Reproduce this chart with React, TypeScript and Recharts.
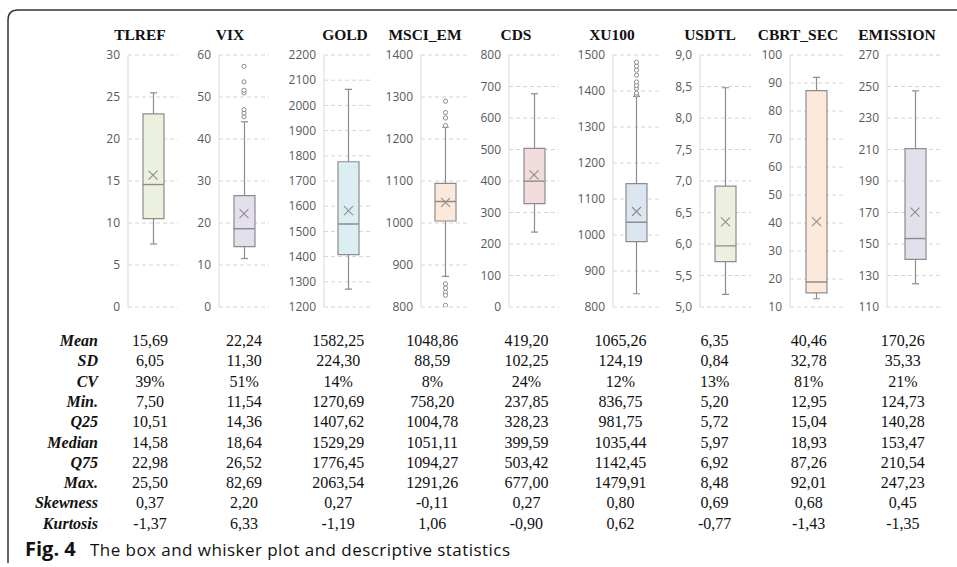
import React from 'react';
import { ComposedChart, Bar, Scatter, XAxis, YAxis, CartesianGrid } from 'recharts';

// box plot values (whiskers end at the last point inside 1.5 IQR)
const names = ['TLREF', 'VIX', 'GOLD', 'MSCI_EM', 'CDS', 'XU100', 'USDTL', 'CBRT_SEC', 'EMISSION'];
const whiskerLow = [7.5, 11.54, 1270.69, 873, 237.85, 836.75, 5.2, 12.95, 124.73];
const q1 = [10.51, 14.36, 1407.62, 1004.78, 328.23, 981.75, 5.72, 15.04, 140.28];
const medians = [14.58, 18.64, 1529.29, 1051.11, 399.59, 1035.44, 5.97, 18.93, 153.47];
const q3 = [22.98, 26.52, 1776.45, 1094.27, 503.42, 1142.45, 6.92, 87.26, 210.54];
const whiskerHigh = [25.5, 44.1, 2063.54, 1228, 677.0, 1385, 8.48, 92.01, 247.23];
const means = [15.69, 22.24, 1582.25, 1048.86, 419.2, 1065.26, 6.35, 40.46, 170.26];
const outliers: number[][] = [
  [],
  [45.3, 46.2, 47.0, 51.0, 51.6, 53.6, 57.3],
  [],
  [1232, 1250, 1263, 1290, 855, 845, 835, 828, 804],
  [],
  [1389, 1394, 1407, 1416, 1425, 1444, 1458, 1469, 1480],
  [],
  [],
  [],
];

const yTicks: number[][] = [
  [0, 5, 10, 15, 20, 25, 30],
  [0, 10, 20, 30, 40, 50, 60],
  [1200, 1300, 1400, 1500, 1600, 1700, 1800, 1900, 2000, 2100, 2200],
  [800, 900, 1000, 1100, 1200, 1300, 1400],
  [0, 100, 200, 300, 400, 500, 600, 700, 800],
  [800, 900, 1000, 1100, 1200, 1300, 1400, 1500],
  [5, 5.5, 6, 6.5, 7, 7.5, 8, 8.5, 9],
  [10, 20, 30, 40, 50, 60, 70, 80, 90, 100],
  [110, 130, 150, 170, 190, 210, 230, 250, 270],
];
const tickDecimals = [0, 0, 0, 0, 0, 0, 1, 0, 0];

// descriptive statistics table
const statLabels = ['Mean', 'SD', 'CV', 'Min.', 'Q25', 'Median', 'Q75', 'Max.', 'Skewness', 'Kurtosis'];
const statRows = [
  ['15,69', '22,24', '1582,25', '1048,86', '419,20', '1065,26', '6,35', '40,46', '170,26'],
  ['6,05', '11,30', '224,30', '88,59', '102,25', '124,19', '0,84', '32,78', '35,33'],
  ['39%', '51%', '14%', '8%', '24%', '12%', '13%', '81%', '21%'],
  ['7,50', '11,54', '1270,69', '758,20', '237,85', '836,75', '5,20', '12,95', '124,73'],
  ['10,51', '14,36', '1407,62', '1004,78', '328,23', '981,75', '5,72', '15,04', '140,28'],
  ['14,58', '18,64', '1529,29', '1051,11', '399,59', '1035,44', '5,97', '18,93', '153,47'],
  ['22,98', '26,52', '1776,45', '1094,27', '503,42', '1142,45', '6,92', '87,26', '210,54'],
  ['25,50', '82,69', '2063,54', '1291,26', '677,00', '1479,91', '8,48', '92,01', '247,23'],
  ['0,37', '2,20', '0,27', '-0,11', '0,27', '0,80', '0,69', '0,68', '0,45'],
  ['-1,37', '6,33', '-1,19', '1,06', '-0,90', '0,62', '-0,77', '-1,43', '-1,35'],
];

// layout
const axisX = [128, 219, 324, 421, 509, 613, 700, 790, 887];
const plotW = [50, 50, 49, 49, 50, 47, 51, 53, 56];
const titleX = [140, 230, 345, 425, 516, 612, 710, 798, 897];
const boxFill = ['#ebf1de', '#e4dfec', '#daeef3', '#fde9d9', '#f2dcdb', '#dce6f1', '#ebf1de', '#fde9d9', '#e4dfec'];
const PLOT_TOP = 55;
const PLOT_H = 252;
const YW = 45;
const M = 8;
const GRAY = '#8c8c8c';
const SERIF = '"Liberation Serif", "Times New Roman", serif';
const SANS = '"Open Sans", "Noto Sans", sans-serif';

const Whisker = (p: any) => {
  const cx = p.x + p.width / 2;
  const top = Math.min(p.y, p.y + p.height);
  const bot = Math.max(p.y, p.y + p.height);
  return (
    <g stroke={GRAY} strokeWidth={1.2}>
      <line x1={cx} x2={cx} y1={top} y2={bot} />
      <line x1={cx - 3.5} x2={cx + 3.5} y1={top} y2={top} />
      <line x1={cx - 3.5} x2={cx + 3.5} y1={bot} y2={bot} />
    </g>
  );
};

const MedianMark = (p: any) => (
  <line x1={p.cx - 10.5} x2={p.cx + 10.5} y1={p.cy} y2={p.cy} stroke={GRAY} strokeWidth={1.4} />
);

const MeanMark = (p: any) => (
  <g stroke={GRAY} strokeWidth={1.1}>
    <line x1={p.cx - 4.5} x2={p.cx + 4.5} y1={p.cy - 4.5} y2={p.cy + 4.5} />
    <line x1={p.cx - 4.5} x2={p.cx + 4.5} y1={p.cy + 4.5} y2={p.cy - 4.5} />
  </g>
);

const OutlierMark = (p: any) => (
  <circle cx={p.cx} cy={p.cy} r={2.1} fill="#fff" stroke={GRAY} strokeWidth={1} />
);

function Panel({ i }: { i: number }) {
  const name = names[i];
  const t = yTicks[i];
  const row = [{ name, box: [q1[i], q3[i]], whisker: [whiskerLow[i], whiskerHigh[i]] }];
  const med = [{ name, v: medians[i] }];
  const avg = [{ name, v: means[i] }];
  const outs = outliers[i].map((v) => ({ name, v }));
  const fmt = (v: number) => v.toFixed(tickDecimals[i]).replace('.', ',');

  return (
    <div style={{ position: 'absolute', left: axisX[i] - YW, top: PLOT_TOP - M }}>
      <ComposedChart
        width={YW + plotW[i]}
        height={PLOT_H + 2 * M}
        data={row}
        margin={{ top: M, right: 0, bottom: M, left: 0 }}
      >
        <CartesianGrid vertical={false} stroke="#d4d4d4" strokeDasharray="4 3" />
        <XAxis xAxisId={0} dataKey="name" hide allowDuplicatedCategory={false} />
        <XAxis xAxisId="w" dataKey="name" hide allowDuplicatedCategory={false} />
        <YAxis
          domain={[t[0], t[t.length - 1]]}
          ticks={t}
          interval={0}
          allowDataOverflow
          width={YW}
          axisLine={{ stroke: '#d9d9d9' }}
          tickLine={false}
          tick={{ fill: '#595959', fontSize: 12, fontFamily: SANS }}
          tickFormatter={fmt}
        />
        <Bar xAxisId="w" dataKey="whisker" barSize={21} shape={Whisker} isAnimationActive={false} />
        <Bar
          xAxisId={0}
          dataKey="box"
          barSize={21}
          fill={boxFill[i]}
          stroke={GRAY}
          strokeWidth={1.2}
          isAnimationActive={false}
        />
        <Scatter xAxisId={0} data={med} dataKey="v" shape={MedianMark} isAnimationActive={false} />
        <Scatter xAxisId={0} data={avg} dataKey="v" shape={MeanMark} isAnimationActive={false} />
        {outs.length > 0 && (
          <Scatter xAxisId={0} data={outs} dataKey="v" shape={OutlierMark} isAnimationActive={false} />
        )}
      </ComposedChart>
    </div>
  );
}

export default function App() {
  return (
    <div style={{ position: 'absolute', left: 0, top: 0, width: 957, height: 567, background: '#fff', overflow: 'hidden' }}>
      <svg width={957} height={567} style={{ position: 'absolute', left: 0, top: 0 }}>
        <path d="M 960 10 L 18 10 Q 8 10 8 20 L 8 563" fill="none" stroke="#333" strokeWidth={1.5} />
        {names.map((n, i) => (
          <text
            key={n}
            x={titleX[i]}
            y={34}
            textAnchor="middle"
            dominantBaseline="central"
            fontFamily={SERIF}
            fontWeight="bold"
            fontSize={15.5}
            fill="#111"
          >
            {n}
          </text>
        ))}
        {statLabels.map((lab, r) => (
          <g key={lab}>
            <text
              x={98}
              y={340.7 + r * 20.26}
              textAnchor="end"
              dominantBaseline="central"
              fontFamily={SERIF}
              fontWeight="bold"
              fontStyle="italic"
              fontSize={16}
              fill="#111"
            >
              {lab}
            </text>
            {statRows[r].map((v, c) => (
              <text
                key={c}
                x={150 + c * 94.1}
                y={340.7 + r * 20.26}
                textAnchor="middle"
                dominantBaseline="central"
                fontFamily={SERIF}
                fontSize={16}
                fill="#111"
              >
                {v}
              </text>
            ))}
          </g>
        ))}
        <text x={25} y={556} fontFamily={SANS} fontSize={20} fontWeight="bold" fill="#111">
          Fig. 4
        </text>
        <text x={90} y={556} fontFamily={SANS} fontSize={17} fill="#111" textLength={420} lengthAdjust="spacing">
          The box and whisker plot and descriptive statistics
        </text>
      </svg>
      {names.map((n, i) => (
        <Panel key={n} i={i} />
      ))}
    </div>
  );
}
